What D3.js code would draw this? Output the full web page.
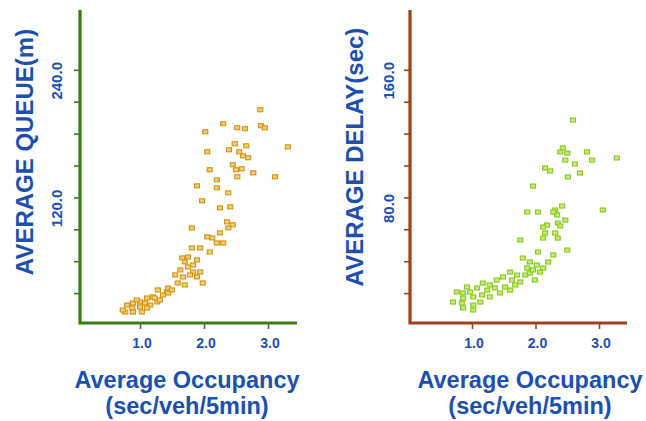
<!DOCTYPE html>
<html>
<head>
<meta charset="utf-8">
<script src="https://cdn.jsdelivr.net/npm/d3@7"></script>
<style>
  body { margin: 0; background: #fff; }
  text { font-family: "Liberation Sans", Arial, sans-serif; font-weight: bold; }
</style>
</head>
<body>
<div id="chart"></div>
<script>
// Average occupancy (sec/veh/5min) vs average queue (m)
const queueOcc = [2.88, 2.30, 2.02, 2.52, 2.64, 2.89, 2.95, 3.31, 2.05, 2.39, 2.48, 2.66, 2.55, 2.61, 2.69,
  2.09, 2.45, 2.50, 2.59, 2.52, 2.77, 3.11, 1.89, 2.20, 2.20, 2.38, 1.97, 2.25, 2.41,
  2.36, 2.45, 2.38, 1.81, 2.05, 2.13, 2.20, 2.30, 1.81, 1.94, 2.09, 1.66, 1.75, 1.89,
  1.63, 1.75, 1.83, 1.94, 1.55, 1.67, 1.78, 1.89, 1.59, 1.70, 1.98, 1.28, 1.42, 1.36,
  1.20, 1.11, 1.00, 0.89, 0.80, 0.88, 1.00, 1.16, 0.77, 0.89, 1.03, 1.11, 1.27, 1.44,
  1.44, 1.31, 0.73, 0.95, 1.08, 1.23, 1.50, 1.83, 1.70, 2.25];
const queueVals = [202.4, 189.3, 181.7, 185.5, 184.6, 187.4, 185.5, 167.6, 162.9, 164.8, 170.4, 168.5, 162.9, 159.1, 157.3,
  146.0, 150.7, 146.0, 146.9, 139.4, 143.1, 139.4, 130.9, 136.5, 129.0, 124.3, 116.8, 110.2, 111.1,
  97.0, 94.2, 91.3, 91.3, 82.9, 81.9, 77.2, 77.2, 72.5, 72.5, 68.7, 63.1, 64.0, 61.2,
  51.8, 54.6, 49.9, 49.9, 47.1, 45.2, 47.1, 45.2, 39.5, 37.7, 39.5, 33.0, 31.1, 28.2,
  26.4, 25.4, 21.7, 20.7, 18.8, 16.0, 16.9, 18.8, 12.2, 12.2, 12.2, 16.0, 21.7, 30.1,
  34.8, 23.5, 14.1, 23.5, 20.7, 25.4, 33.0, 56.5, 59.3, 86.6];

// Average occupancy (sec/veh/5min) vs average delay (sec)
const delayOcc = [2.59, 2.39, 2.43, 2.50, 2.47, 2.81, 2.89, 3.28, 2.62, 2.70, 2.15, 2.23, 2.51, 1.96,
  1.87, 2.04, 2.31, 2.42, 3.06, 2.34, 2.47, 2.35, 2.18, 2.15, 2.31, 2.35, 2.12, 1.76,
  2.50, 2.04, 2.28, 1.80, 1.91, 2.02, 2.12, 2.07, 1.60, 1.71, 1.84, 1.91, 1.49, 1.63,
  1.76, 1.39, 1.28, 1.17, 1.36, 1.52, 1.08, 0.97, 0.86, 0.76, 0.86, 1.02, 1.16, 1.28,
  0.70, 0.84, 1.02, 0.86, 1.02, 1.13, 1.44, 1.60, 1.68, 1.87, 1.96, 2.20, 1.99, 0.92,
  1.24, 2.28, 2.12, 2.39];
const delayVals = [128.5, 108.5, 111.0, 107.8, 103.4, 108.5, 103.4, 104.7, 100.9, 95.3, 98.4, 96.6, 92.8, 87.1,
  70.8, 70.8, 72.1, 74.6, 72.1, 69.0, 65.8, 63.9, 62.7, 57.7, 57.7, 54.5, 54.5, 53.3,
  47.0, 45.8, 43.9, 42.0, 39.5, 37.6, 35.7, 33.2, 33.2, 31.3, 31.3, 32.6, 30.1, 28.2,
  27.0, 28.2, 25.1, 26.3, 23.2, 23.8, 23.2, 20.7, 20.1, 20.7, 16.9, 17.6, 18.8, 17.6,
  14.4, 13.8, 12.5, 10.7, 9.4, 14.4, 20.1, 21.9, 25.1, 35.7, 34.5, 39.5, 28.2, 23.8,
  21.9, 70.8, 61.4, 62.1];

const xTickVals = [1, 2, 3];
const queueTicks = [30, 60, 90, 120, 150, 180, 210, 240];
const queueLabels = [120, 240];
const delayTicks = [20, 40, 60, 80, 100, 120, 140, 160];
const delayLabels = [80, 160];

const textBlue = "#1d4fae";

const svg = d3.select("#chart").append("svg")
    .attr("width", 646)
    .attr("height", 421);

function drawPanel(cfg) {
    const x = d3.scaleLinear().domain([1, 3]).range([cfg.x1, cfg.x3]);
    const y = d3.scaleLinear().domain([0, cfg.yMax]).range([325, 6]);
    const g = svg.append("g");

    // scatter markers
    g.selectAll("rect.pt")
        .data(d3.zip(cfg.xs, cfg.ys))
        .join("rect")
        .attr("class", "pt")
        .attr("x", d => x(d[0]) - 2.5)
        .attr("y", d => y(d[1]) - 2)
        .attr("width", 5)
        .attr("height", 4)
        .attr("fill", cfg.fill)
        .attr("stroke", cfg.dot)
        .attr("stroke-width", 1.1);

    // y ticks
    g.append("g")
        .attr("transform", `translate(${cfg.left},0)`)
        .call(d3.axisLeft(y).tickValues(cfg.ticks).tickSize(6).tickFormat(""))
        .call(a => a.select(".domain").remove())
        .selectAll("line")
        .attr("stroke", cfg.axis)
        .attr("stroke-width", 1.6);

    // x ticks
    g.append("g")
        .attr("transform", `translate(0,${cfg.bottom})`)
        .call(d3.axisBottom(x).tickValues(xTickVals).tickSize(6).tickFormat(""))
        .call(a => a.select(".domain").remove())
        .selectAll("line")
        .attr("stroke", cfg.axis)
        .attr("stroke-width", 1.6);

    // axis lines
    g.append("path")
        .attr("d", `M${cfg.left},${cfg.top}V${cfg.bottom}H${cfg.right}`)
        .attr("fill", "none")
        .attr("stroke", cfg.axis)
        .attr("stroke-width", 3.2);

    // y tick labels (rotated)
    g.selectAll("text.ylab")
        .data(cfg.labels)
        .join("text")
        .attr("class", "ylab")
        .attr("transform", d => `translate(${cfg.labelX},${y(d) + 11}) rotate(-90)`)
        .attr("text-anchor", "middle")
        .attr("fill", textBlue)
        .style("font-size", "15px")
        .text(d => d.toFixed(1));

    // x tick labels
    g.selectAll("text.xlab")
        .data(xTickVals)
        .join("text")
        .attr("class", "xlab")
        .attr("x", d => x(d) + 2)
        .attr("y", 348)
        .attr("text-anchor", "middle")
        .attr("fill", textBlue)
        .style("font-size", "14px")
        .text(d => d.toFixed(1));

    // y title
    g.append("text")
        .attr("transform", `translate(${cfg.titleX},${cfg.titleY}) rotate(-90)`)
        .attr("text-anchor", "middle")
        .attr("fill", textBlue)
        .style("font-size", "24px")
        .text(cfg.yTitle);

    // x title
    g.append("text")
        .attr("x", cfg.xTitleX)
        .attr("y", 388)
        .attr("text-anchor", "middle")
        .attr("fill", textBlue)
        .style("font-size", "23.5px")
        .text("Average Occupancy");
    g.append("text")
        .attr("x", cfg.xTitleX)
        .attr("y", 414)
        .attr("text-anchor", "middle")
        .attr("fill", textBlue)
        .style("font-size", "23.5px")
        .text("(sec/veh/5min)");
}

drawPanel({
    xs: queueOcc, ys: queueVals, yMax: 300,
    ticks: queueTicks, labels: queueLabels,
    left: 80, right: 297, top: 10, bottom: 323, x1: 140, x3: 268,
    axis: "#3c7d14", dot: "#d4920c", fill: "#f1cf7e",
    labelX: 62, titleX: 33, titleY: 152, xTitleX: 187,
    yTitle: "AVERAGE QUEUE(m)"
});

drawPanel({
    xs: delayOcc, ys: delayVals, yMax: 200,
    ticks: delayTicks, labels: delayLabels,
    left: 410, right: 627, top: 10, bottom: 323, x1: 472, x3: 599,
    axis: "#a3401c", dot: "#88c818", fill: "#c6ea7c",
    labelX: 394, titleX: 363, titleY: 157, xTitleX: 530,
    yTitle: "AVERAGE DELAY(sec)"
});
</script>
</body>
</html>
